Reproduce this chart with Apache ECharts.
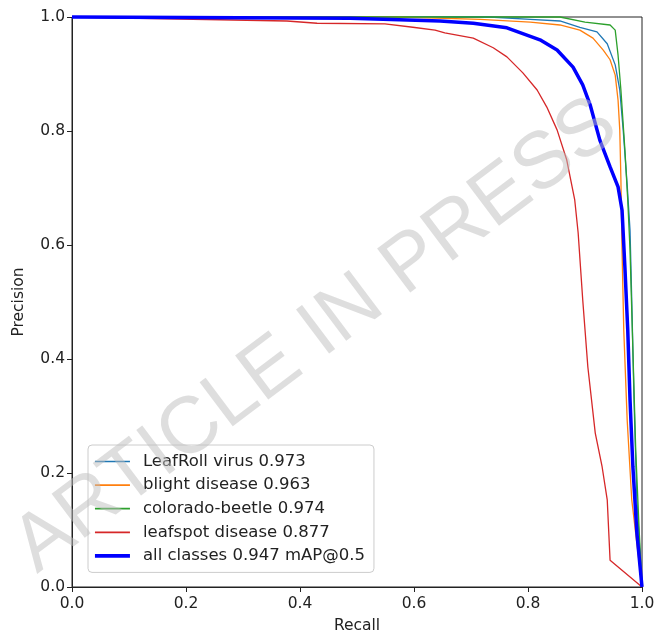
<!DOCTYPE html>
<html>
<head>
<meta charset="utf-8">
<script src="https://cdn.jsdelivr.net/npm/echarts@6/dist/echarts.min.js"></script>
<style>
html,body{margin:0;padding:0;background:#fff;}
#chart{width:656px;height:636px;}
</style>
</head>
<body>
<div id="chart"></div>
<script>
// ---- data ----
var seriesNames = ['LeafRoll virus 0.973', 'blight disease 0.963', 'colorado-beetle 0.974', 'leafspot disease 0.877', 'all classes 0.947 mAP@0.5'];
var seriesColors = ['#1f77b4', '#ff7f0e', '#2ca02c', '#d62728', '#0000ff'];

var leafrollRecall    = [0, 0.733, 0.804, 0.856, 0.891, 0.921, 0.939, 0.953, 0.961, 0.967, 0.974, 0.979, 0.982, 0.986, 0.991, 1.0];
var leafrollPrecision = [1, 1.0,   0.996, 0.993, 0.982, 0.974, 0.953, 0.916, 0.872, 0.802, 0.705, 0.626, 0.504, 0.328, 0.153, 0.0];

var blightRecall    = [0, 0.575, 0.716, 0.804, 0.856, 0.891, 0.914, 0.932, 0.944, 0.953, 0.958, 0.961, 0.963, 0.965, 0.968, 0.974, 0.982, 1.0];
var blightPrecision = [1, 1.0,   0.996, 0.991, 0.986, 0.977, 0.963, 0.942, 0.925, 0.898, 0.854, 0.802, 0.714, 0.591, 0.451, 0.293, 0.153, 0.0];

var beetleRecall    = [0, 0.856, 0.900, 0.944, 0.953, 0.958, 0.963, 0.970, 0.975, 0.979, 0.984, 0.989, 0.995, 1.0];
var beetlePrecision = [1, 1.0,   0.991, 0.986, 0.977, 0.933, 0.872, 0.767, 0.679, 0.591, 0.416, 0.240, 0.100, 0.0];

var leafspotRecall    = [0, 0.377, 0.430, 0.549, 0.598, 0.637, 0.654, 0.704, 0.739, 0.763, 0.791, 0.816, 0.833, 0.851, 0.868, 0.882, 0.888, 0.896, 0.905, 0.918, 0.930, 0.939, 0.944, 1.0];
var leafspotPrecision = [1, 0.993, 0.989, 0.988, 0.982, 0.977, 0.972, 0.963, 0.946, 0.930, 0.902, 0.872, 0.842, 0.802, 0.749, 0.679, 0.621, 0.504, 0.386, 0.270, 0.211, 0.153, 0.047, 0.0];

var allRecall    = [0, 0.488, 0.646, 0.704, 0.763, 0.821, 0.851, 0.879, 0.896, 0.909, 0.926, 0.944, 0.958, 0.965, 0.970, 0.975, 0.979, 0.984, 0.991, 1.0];
var allPrecision = [1, 0.998, 0.993, 0.989, 0.981, 0.960, 0.942, 0.912, 0.881, 0.846, 0.784, 0.737, 0.702, 0.661, 0.561, 0.451, 0.328, 0.211, 0.095, 0.0];

var watermarkText = 'ARTICLE IN PRESS';

// ---- build ----
function zip(a, b) { return a.map(function (v, i) { return [v, b[i]]; }); }
var curves = [
  zip(leafrollRecall, leafrollPrecision),
  zip(blightRecall, blightPrecision),
  zip(beetleRecall, beetlePrecision),
  zip(leafspotRecall, leafspotPrecision),
  zip(allRecall, allPrecision)
];
var widths = [1.3, 1.3, 1.3, 1.3, 3.5];

var font = 'DejaVu Sans';
var chart = echarts.init(document.getElementById('chart'));
var axisCommon = {
  type: 'value', min: 0, max: 1, interval: 0.2,
  axisLine: { show: true, lineStyle: { color: '#222', width: 1 } },
  axisTick: { show: true, length: 5, lineStyle: { color: '#222', width: 1 } },
  splitLine: { show: false },
  axisLabel: { color: '#222', fontSize: 15.5, fontFamily: font, margin: 7,
    formatter: function (v) { return v.toFixed(1); } },
  nameLocation: 'middle',
  nameTextStyle: { color: '#222', fontSize: 15.5, fontFamily: font }
};

chart.setOption({
  animation: false,
  backgroundColor: '#fff',
  grid: { left: 72, right: 14, top: 17, bottom: 49, containLabel: false, outerBoundsMode: 'none',
    show: true, borderColor: '#222', borderWidth: 1, backgroundColor: 'transparent' },
  xAxis: Object.assign({}, axisCommon, { name: 'Recall', nameGap: 31,
    axisLabel: Object.assign({}, axisCommon.axisLabel, { margin: 9 }) }),
  yAxis: Object.assign({}, axisCommon, { name: 'Precision', nameGap: 45 }),
  legend: {
    orient: 'vertical', left: 88, top: 445,
    padding: [8, 9, 8, 5],
    itemWidth: 35, itemHeight: 16, itemGap: 6.6,
    backgroundColor: 'rgba(255,255,255,0.8)',
    borderColor: '#cccccc', borderWidth: 1, borderRadius: 4,
    textStyle: { color: '#222', fontSize: 16.5, lineHeight: 16, fontFamily: font, padding: [0, 0, 0, 8] },
    data: seriesNames.map(function (n, i) {
      return { name: n,
        itemStyle: { color: 'transparent', borderColor: 'transparent', borderWidth: 0, opacity: 0 },
        lineStyle: { color: seriesColors[i], width: widths[i] + 0.4, opacity: 1 } };
    })
  },
  series: curves.map(function (d, i) {
    return {
      type: 'line', name: seriesNames[i], data: d,
      showSymbol: false, symbol: 'none',
      lineStyle: { color: seriesColors[i], width: widths[i] },
      itemStyle: { color: seriesColors[i] },
      z: 2 + i, clip: false
    };
  }),
  graphic: [{
    type: 'text', z: 100,
    x: 316, y: 336, rotation: 37 * Math.PI / 180,
    style: {
      text: watermarkText, fontSize: 80, fontFamily: 'Liberation Sans',
      fill: 'rgba(190,190,190,0.5)', align: 'center', verticalAlign: 'middle'
    }
  }]
});
</script>
</body>
</html>
